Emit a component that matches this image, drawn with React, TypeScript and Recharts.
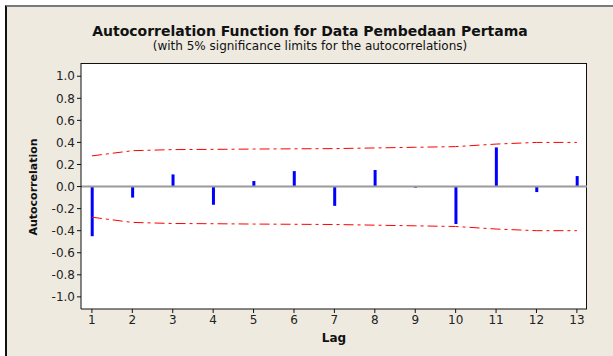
import React from "react";
import { ComposedChart, Bar, Line, XAxis, YAxis, ReferenceLine } from "recharts";

const lags = [1, 2, 3, 4, 5, 6, 7, 8, 9, 10, 11, 12, 13];
const acfValues = [-0.45, -0.1, 0.11, -0.165, 0.05, 0.14, -0.175, 0.15, -0.01, -0.34, 0.355, -0.05, 0.095];
const upperLimit = [0.278, 0.325, 0.335, 0.337, 0.34, 0.342, 0.344, 0.35, 0.356, 0.362, 0.385, 0.4, 0.4];
const lowerLimit = upperLimit.map((v) => -v);
const yTicks = [-1, -0.8, -0.6, -0.4, -0.2, 0, 0.2, 0.4, 0.6, 0.8, 1];

const data = lags.map((lag, i) => ({
  lag,
  acf: acfValues[i],
  upper: upperLimit[i],
  lower: lowerLimit[i],
}));

const FONT = "'DejaVu Sans', Verdana, sans-serif";

export default function App() {
  return (
    <div style={{ position: "absolute", left: 0, top: 0, width: 613, height: 356, background: "#ffffff", fontFamily: FONT }}>
      <div
        style={{
          position: "absolute",
          left: 5,
          top: 5,
          width: 608,
          height: 351,
          background: "#EEEAE0",
          borderTop: "2px solid #7a7a7a",
          borderLeft: "2px solid #111",
          boxSizing: "border-box",
        }}
      />
      <div
        style={{
          position: "absolute",
          left: 81,
          top: 63,
          width: 506,
          height: 246,
          background: "#fff",
          borderTop: "1px solid #111",
          borderRight: "1px solid #111",
          boxSizing: "border-box",
        }}
      />
      <div style={{ position: "absolute", left: 0, width: 620, top: 23, textAlign: "center", fontWeight: "bold", fontSize: 14, lineHeight: "16px", color: "#111" }}>
        Autocorrelation Function for Data Pembedaan Pertama
      </div>
      <div style={{ position: "absolute", left: 0, width: 620, top: 39, textAlign: "center", fontSize: 12, lineHeight: "14px", color: "#111" }}>
        (with 5% significance limits for the autocorrelations)
      </div>
      <div
        style={{
          position: "absolute",
          left: 33,
          top: 187,
          transform: "translate(-50%, -50%) rotate(-90deg)",
          fontWeight: "bold",
          fontSize: 11,
          whiteSpace: "nowrap",
          color: "#111",
        }}
      >
        Autocorrelation
      </div>
      <div style={{ position: "absolute", left: 334, top: 338, transform: "translate(-50%, -50%)", fontWeight: "bold", fontSize: 12, color: "#111" }}>
        Lag
      </div>
      <div style={{ position: "absolute", left: 0, top: 0 }}>
        <ComposedChart width={613} height={356} data={data} margin={{ top: 63, right: 26, bottom: 0, left: 0 }}>
          <XAxis
            dataKey="lag"
            type="number"
            domain={[0.73, 13.25]}
            ticks={lags}
            allowDataOverflow
            height={47}
            stroke="#111"
            tickSize={4}
            tick={{ fill: "#222", fontSize: 12, fontFamily: FONT }}
            interval={0}
          />
          <YAxis
            type="number"
            domain={[-1.11, 1.12]}
            ticks={yTicks}
            allowDataOverflow
            width={81}
            stroke="#111"
            tickSize={4}
            tick={{ fill: "#222", fontSize: 12, fontFamily: FONT }}
            tickFormatter={(v: number) => v.toFixed(1)}
            interval={0}
          />
          <ReferenceLine y={0} stroke="#9a9a9a" strokeWidth={2} />
          <Bar dataKey="acf" fill="#0000ff" barSize={3} isAnimationActive={false} />
          <Line dataKey="upper" stroke="#ff0000" strokeWidth={1} strokeDasharray="10 4 3 4" dot={false} type="linear" isAnimationActive={false} />
          <Line dataKey="lower" stroke="#ff0000" strokeWidth={1} strokeDasharray="10 4 3 4" dot={false} type="linear" isAnimationActive={false} />
        </ComposedChart>
      </div>
    </div>
  );
}
